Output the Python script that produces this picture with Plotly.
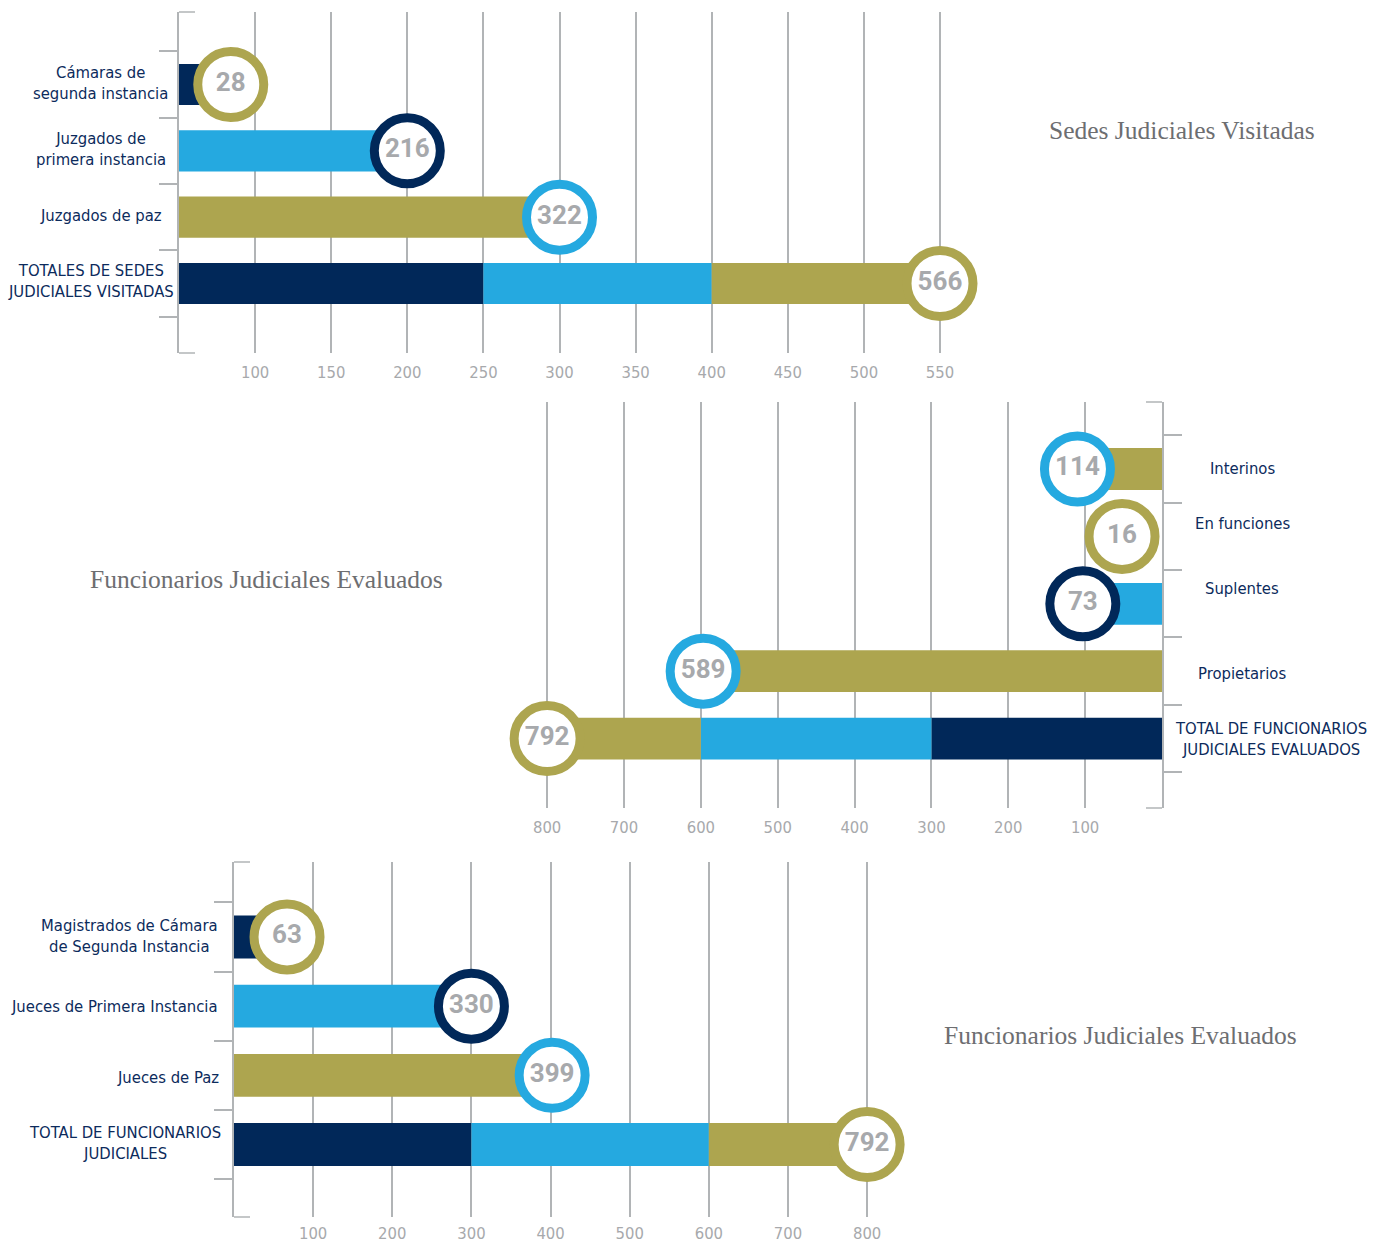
import plotly.graph_objects as go

W, H = 1384, 1243

NAVY = "#012859"
BLUE = "#25A9E0"
OLIVE = "#ADA54F"
GRID = "#B1B4B6"
NUM = "#A7A9AC"
LABEL = "#0C2B5C"
TITLE = "#6D6E71"

LABEL_FONT = "DejaVu Sans Condensed, Liberation Sans Narrow, Roboto, sans-serif"
NUM_FONT = "Roboto, Liberation Sans, sans-serif"
TITLE_FONT = "Liberation Serif, DejaVu Serif, serif"

# ---------------- Panel 1: Sedes Judiciales Visitadas ----------------
sedes_titulo = "Sedes Judiciales Visitadas"
sedes_categorias = ["Cámaras de<br>segunda instancia", "Juzgados de<br>primera instancia",
                    "Juzgados de paz", "TOTALES DE SEDES<br>JUDICIALES VISITADAS"]
sedes_valores = ["28", "216", "322", "566"]
sedes_pos_circulo = [84, 200, 300, 550]
sedes_color_barra = [NAVY, BLUE, OLIVE]
sedes_color_aro = [OLIVE, NAVY, BLUE, OLIVE]
sedes_total_tramos = [50, 250, 400, 550]
sedes_total_colores = [NAVY, BLUE, OLIVE]
sedes_eje_inicio = 50
sedes_ticks = [100, 150, 200, 250, 300, 350, 400, 450, 500, 550]

# ---------------- Panel 2: Funcionarios por tipo de nombramiento ----------------
func_titulo = "Funcionarios Judiciales Evaluados"
func_categorias = ["Interinos", "En funciones", "Suplentes", "Propietarios",
                   "TOTAL DE FUNCIONARIOS<br>JUDICIALES EVALUADOS"]
func_valores = ["114", "16", "73", "589", "792"]
func_pos_circulo = [110, 52, 103, 597, 800]
func_color_barra = [OLIVE, None, BLUE, OLIVE]
func_color_aro = [BLUE, OLIVE, NAVY, BLUE, OLIVE]
func_total_tramos = [0, 300, 600, 800]
func_total_colores = [NAVY, BLUE, OLIVE]
func_eje_inicio = 0
func_ticks = [100, 200, 300, 400, 500, 600, 700, 800]

# ---------------- Panel 3: Funcionarios por cargo ----------------
cargo_titulo = "Funcionarios Judiciales Evaluados"
cargo_categorias = ["Magistrados de Cámara<br>de Segunda Instancia", "Jueces de Primera Instancia",
                    "Jueces de Paz", "TOTAL DE FUNCIONARIOS<br>JUDICIALES"]
cargo_valores = ["63", "330", "399", "792"]
cargo_pos_circulo = [67, 300, 402, 800]
cargo_color_barra = [NAVY, BLUE, OLIVE]
cargo_color_aro = [OLIVE, NAVY, BLUE, OLIVE]
cargo_total_tramos = [0, 300, 600, 800]
cargo_total_colores = [NAVY, BLUE, OLIVE]
cargo_eje_inicio = 0
cargo_ticks = [100, 200, 300, 400, 500, 600, 700, 800]

fig = go.Figure()


def add_panel(k, pos_circulo, valores, color_barra, color_aro, tramos, tramo_colores, inicio):
    xa = "x" if k == 1 else f"x{k}"
    ya = "y" if k == 1 else f"y{k}"
    ys, xs, bases, cols = [], [], [], []
    for i, c in enumerate(color_barra):
        if c is None:
            continue
        ys.append(i)
        bases.append(inicio)
        xs.append(pos_circulo[i] - inicio)
        cols.append(c)
    ti = len(pos_circulo) - 1
    for j, c in enumerate(tramo_colores):
        ys.append(ti)
        bases.append(tramos[j])
        xs.append(tramos[j + 1] - tramos[j])
        cols.append(c)
    fig.add_trace(go.Bar(orientation="h", y=ys, x=xs, base=bases, width=0.62,
                         marker=dict(color=cols, line=dict(width=0)),
                         xaxis=xa, yaxis=ya, showlegend=False, hoverinfo="skip"))
    fig.add_trace(go.Scatter(x=pos_circulo, y=list(range(len(pos_circulo))), mode="markers+text",
                             text=valores, textposition="middle center",
                             textfont=dict(family=NUM_FONT, size=26, color=NUM, weight=700),
                             marker=dict(size=66, color="white",
                                         line=dict(color=color_aro, width=9)),
                             cliponaxis=False, xaxis=xa, yaxis=ya, showlegend=False,
                             hoverinfo="skip"))


add_panel(1, sedes_pos_circulo, sedes_valores, sedes_color_barra, sedes_color_aro,
          sedes_total_tramos, sedes_total_colores, sedes_eje_inicio)
add_panel(2, func_pos_circulo, func_valores, func_color_barra, func_color_aro,
          func_total_tramos, func_total_colores, func_eje_inicio)
add_panel(3, cargo_pos_circulo, cargo_valores, cargo_color_barra, cargo_color_aro,
          cargo_total_tramos, cargo_total_colores, cargo_eje_inicio)


def xaxis_cfg(x0px, x1px, rng, ticks, anchor, tl):
    return dict(domain=[x0px / W, x1px / W], range=rng, tickvals=ticks,
                showgrid=True, gridcolor=GRID, gridwidth=1.5, zeroline=False,
                showline=False, ticks="outside", ticklen=tl, tickcolor="rgba(0,0,0,0)",
                tickfont=dict(family=LABEL_FONT, size=16.5, color=NUM), anchor=anchor,
                fixedrange=True, automargin=False)


def yaxis_cfg(top_px, bot_px, rng, n, anchor, side):
    return dict(domain=[1 - bot_px / H, 1 - top_px / H], range=rng,
                tickvals=[i - 0.5 for i in range(n + 1)], showticklabels=False,
                ticks="outside", ticklen=18, tickcolor=GRID, tickwidth=1.5,
                showline=True, linecolor=GRID, linewidth=1.5, showgrid=False,
                zeroline=False, anchor=anchor, side=side, fixedrange=True,
                automargin=False)


s1 = 1.522
s2 = 0.7686
s3 = 0.7914
fig.update_layout(
    xaxis=xaxis_cfg(179, 179 + 550 * s1, [50, 600], sedes_ticks, "y", 4),
    yaxis=yaxis_cfg(12, 353, [4.048, -1.093], 4, "x", "left"),
    xaxis2=xaxis_cfg(1162 - 850 * s2, 1162, [850, 0], func_ticks, "y2", 4),
    yaxis2=yaxis_cfg(402, 808, [5.03, -0.994], 5, "x2", "right"),
    xaxis3=xaxis_cfg(234, 234 + 850 * s3, [0, 850], cargo_ticks, "y3", 1),
    yaxis3=yaxis_cfg(862, 1217, [4.047, -1.083], 4, "x3", "left"),
)

# bracket ends of the category axes
shapes = []
for (xa, xb, yr) in [(179, 195, "y domain"), (1146, 1162, "y2 domain"), (234, 250, "y3 domain")]:
    for yv in (0, 1):
        shapes.append(dict(type="line", xref="paper", yref=yr, x0=xa / W, x1=xb / W,
                           y0=yv, y1=yv, line=dict(color=GRID, width=1.5)))

annotations = []


def lab(text, xpx, yref, yv, xanchor="center", yshift=0):
    annotations.append(dict(text=text, x=xpx / W, xref="paper", y=yv, yref=yref,
                            xanchor=xanchor, yanchor="middle", showarrow=False, align="center",
                            yshift=yshift,
                            font=dict(family=LABEL_FONT, size=16.5, color=LABEL)))


sedes_lab_x = [100, 101, 101, 91]
for i, t in enumerate(sedes_categorias):
    lab(t, sedes_lab_x[i], "y", i, yshift=2)
func_lab_x = [1242, 1242, 1242, 1242, 1271]
func_lab_shift = [0, 13, 15, -2, 0]
for i, t in enumerate(func_categorias):
    lab(t, func_lab_x[i], "y2", i, yshift=func_lab_shift[i])
cargo_lab = [(129, "center"), (220, "right"), (221, "right"), (125, "center")]
for i, t in enumerate(cargo_categorias):
    lab(t, cargo_lab[i][0], "y3", i, xanchor=cargo_lab[i][1], yshift=[1, 0, -2, 2][i])

for t, xpx, ypx in [(sedes_titulo, 1182, 131), (func_titulo, 266, 579), (cargo_titulo, 1120, 1035)]:
    annotations.append(dict(text=t, x=xpx / W, y=1 - ypx / H, xref="paper", yref="paper",
                            xanchor="center", yanchor="middle", showarrow=False,
                            font=dict(family=TITLE_FONT, size=25.5, color=TITLE)))

fig.update_layout(width=W, height=H, margin=dict(l=0, r=0, t=0, b=0, autoexpand=False),
                  paper_bgcolor="white", plot_bgcolor="rgba(0,0,0,0)",
                  shapes=shapes, annotations=annotations, barmode="overlay")

fig.write_html(
    "out.html", config={"displayModeBar": False},
    post_script=(
        "var st=document.createElement('style');"
        "st.textContent='html,body{margin:0!important;padding:0!important;overflow:hidden;}';"
        "document.head.appendChild(st);"
    ),
)
